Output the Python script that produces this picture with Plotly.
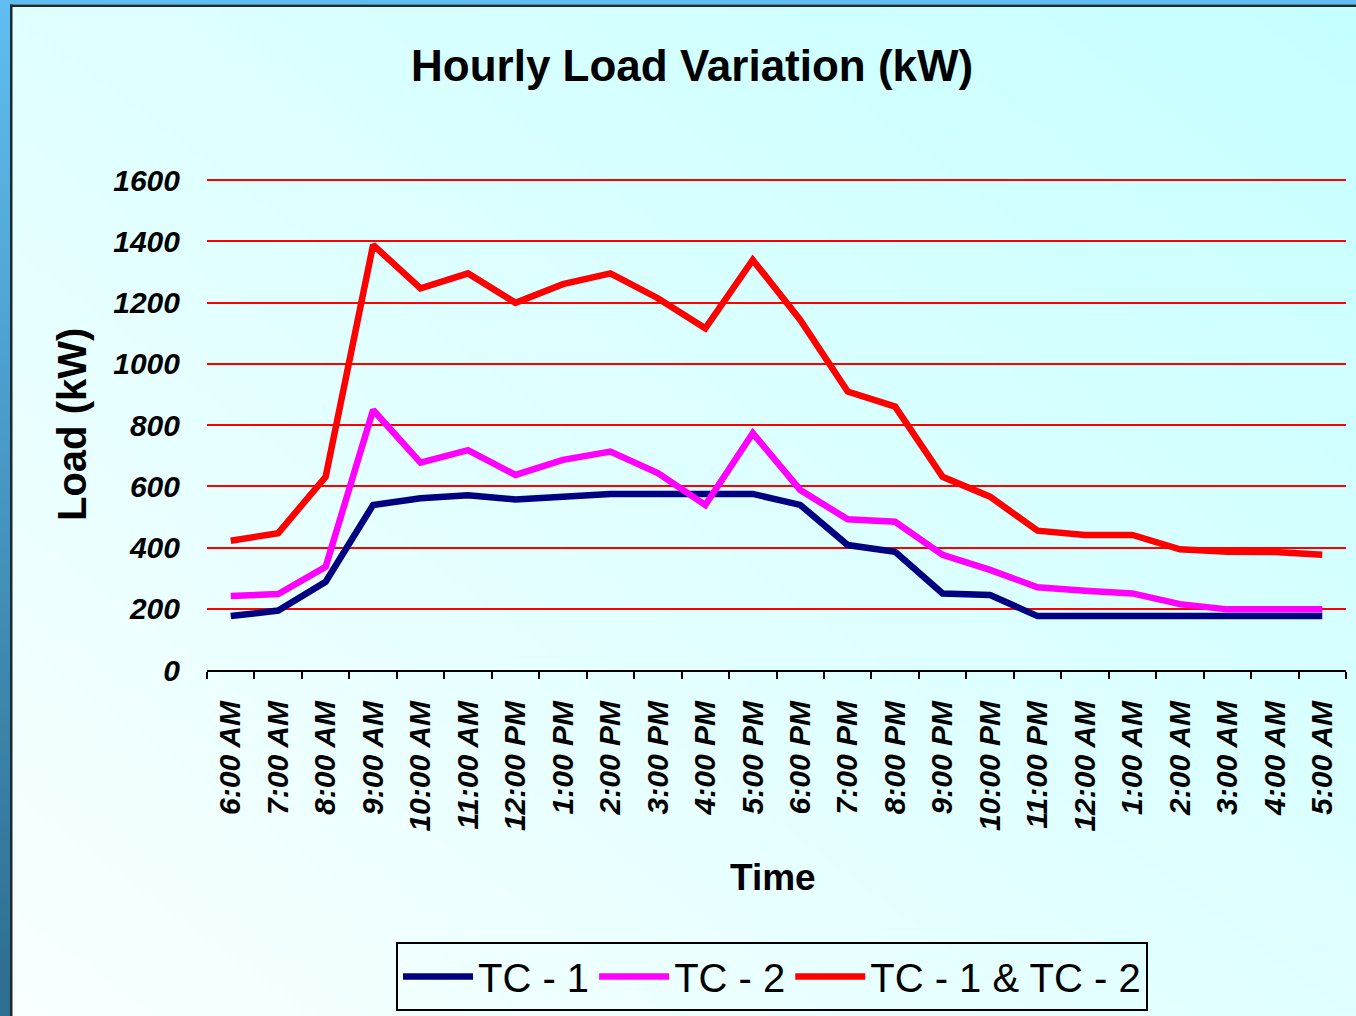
import base64, struct, zlib
import numpy as np
import plotly.graph_objects as go

# ---------------- data ----------------
times = ["6:00 AM", "7:00 AM", "8:00 AM", "9:00 AM", "10:00 AM", "11:00 AM",
         "12:00 PM", "1:00 PM", "2:00 PM", "3:00 PM", "4:00 PM", "5:00 PM",
         "6:00 PM", "7:00 PM", "8:00 PM", "9:00 PM", "10:00 PM", "11:00 PM",
         "12:00 AM", "1:00 AM", "2:00 AM", "3:00 AM", "4:00 AM", "5:00 AM"]
tc1 = [176, 194, 288, 539, 561, 571, 557, 566, 575, 575, 575, 575,
       539, 408, 386, 250, 245, 176, 176, 176, 176, 176, 176, 176]
tc2 = [242, 248, 337, 849, 677, 718, 637, 686, 713, 643, 539, 773,
       588, 492, 484, 376, 327, 270, 259, 250, 215, 198, 198, 198]
tc_both = [422, 447, 631, 1388, 1246, 1295, 1199, 1260, 1295, 1214, 1116, 1339,
           1143, 909, 860, 631, 566, 455, 441, 441, 394, 386, 385, 376]
series_names = ["TC - 1", "TC - 2", "TC - 1 & TC - 2"]
y_ticks = [0, 200, 400, 600, 800, 1000, 1200, 1400, 1600]

# ---------------- geometry ----------------
W, H = 1356, 1016
ML, MR, MT, MB = 207, 10, 179, 346
PW, PH = W - ML - MR, H - MT - MB


def px(x):
    return (x - ML) / PW


def py(y):
    return (H - MB - y) / PH


def png_uri(arr):
    h, w, _ = arr.shape
    raw = b"".join(b"\x00" + arr[i].tobytes() for i in range(h))

    def chunk(t, d):
        c = struct.pack(">I", len(d)) + t + d
        return c + struct.pack(">I", zlib.crc32(t + d) & 0xFFFFFFFF)

    data = b"\x89PNG\r\n\x1a\n" + chunk(b"IHDR", struct.pack(">IIBBBBB", w, h, 8, 2, 0, 0, 0))
    data += chunk(b"IDAT", zlib.compress(raw, 9)) + chunk(b"IEND", b"")
    return "data:image/png;base64," + base64.b64encode(data).decode()


# background diagonal gradient (white-ish bottom-left -> cyan top-right)
gw, gh = 170, 128
xx, yy = np.meshgrid(np.linspace(0, 1, gw), np.linspace(0, 1, gh))
t = (xx + (1 - yy)) / 2
bg = np.zeros((gh, gw, 3), dtype=np.uint8)
bg[..., 0] = (250 - 52 * t).astype(np.uint8)
bg[..., 1] = 255
bg[..., 2] = 255

# left frame strip gradient
sh = 64
s = np.linspace(0, 1, sh)[:, None]
strip = np.zeros((sh, 2, 3), dtype=np.uint8)
strip[..., 0] = (96 - 50 * s).astype(np.uint8)
strip[..., 1] = (190 - 80 * s).astype(np.uint8)
strip[..., 2] = (242 - 100 * s).astype(np.uint8)

fig = go.Figure()
colors = ["#000080", "#FF00FF", "#FF0000"]
for name, vals, col in zip(series_names, [tc1, tc2, tc_both], colors):
    fig.add_trace(go.Scatter(x=times, y=vals, mode="lines", name=name,
                             line=dict(color=col, width=6.5)))

font_main = "Arial, Liberation Sans, sans-serif"

fig.update_layout(
    width=W, height=H,
    margin=dict(l=ML, r=MR, t=MT, b=MB, pad=0),
    paper_bgcolor="#E6FFFF",
    plot_bgcolor="rgba(0,0,0,0)",
    showlegend=True,
    legend=dict(orientation="h", xref="container", yref="container",
                x=772 / W, xanchor="center", y=1 - 942 / H, yanchor="top",
                bordercolor="#000000", borderwidth=2, bgcolor="rgba(0,0,0,0)",
                font=dict(family=font_main, size=40, color="#000000"),
                itemwidth=70, tracegroupgap=0),
    images=[
        dict(source=png_uri(bg), xref="paper", yref="paper", x=px(0), y=py(0),
             sizex=W / PW, sizey=H / PH, sizing="stretch", xanchor="left",
             yanchor="top", layer="below"),
        dict(source=png_uri(strip), xref="paper", yref="paper", x=px(0), y=py(0),
             sizex=10 / PW, sizey=H / PH, sizing="stretch", xanchor="left",
             yanchor="top", layer="below"),
    ],
    shapes=[
        dict(type="rect", xref="paper", yref="paper", x0=px(10), x1=px(12.5),
             y0=py(H), y1=py(4), fillcolor="#1E2A33", line=dict(width=0), layer="below"),
        dict(type="rect", xref="paper", yref="paper", x0=px(0), x1=px(W),
             y0=py(0), y1=py(4.5), fillcolor="#5EBEF2", line=dict(width=0), layer="below"),
        dict(type="rect", xref="paper", yref="paper", x0=px(10), x1=px(W),
             y0=py(4.5), y1=py(7), fillcolor="#1E2A33", line=dict(width=0), layer="below"),
    ],
    annotations=[
        dict(text="<b>Hourly Load Variation (kW)</b>", xref="paper", yref="paper",
             x=px(692), y=py(65), xanchor="center", yanchor="middle", showarrow=False,
             font=dict(family=font_main, size=44, color="#000000")),
        dict(text="<b>Load (kW)</b>", xref="paper", yref="paper",
             x=px(72), y=py(425), xanchor="center", yanchor="middle", showarrow=False,
             textangle=-90, font=dict(family=font_main, size=40, color="#000000")),
        dict(text="<b>Time</b>", xref="paper", yref="paper",
             x=px(773), y=py(877), xanchor="center", yanchor="middle", showarrow=False,
             font=dict(family=font_main, size=37, color="#000000")),
    ],
)

fig.update_xaxes(
    type="category", showgrid=False, showline=True, linecolor="#000000", linewidth=2,
    ticks="outside", tickson="boundaries", ticklen=7, tickwidth=2, tickcolor="#000000",
    tickangle=-90, ticklabelstandoff=17,
    tickfont=dict(family=font_main, size=30, color="#000000", weight="bold", style="italic"),
    range=[-0.5, len(times) - 0.5], zeroline=False,
)
fig.update_yaxes(
    range=[0, 1603.3], tickvals=y_ticks, ticktext=[str(v) for v in y_ticks],
    showgrid=True, gridcolor="#FF0000", gridwidth=2, zeroline=False, showline=False,
    ticks="", ticklabelstandoff=26,
    tickfont=dict(family=font_main, size=30, color="#000000", weight="bold", style="italic"),
)

fig.write_html("out.html", config={"displayModeBar": False},
               post_script="document.body.style.margin='0';")
